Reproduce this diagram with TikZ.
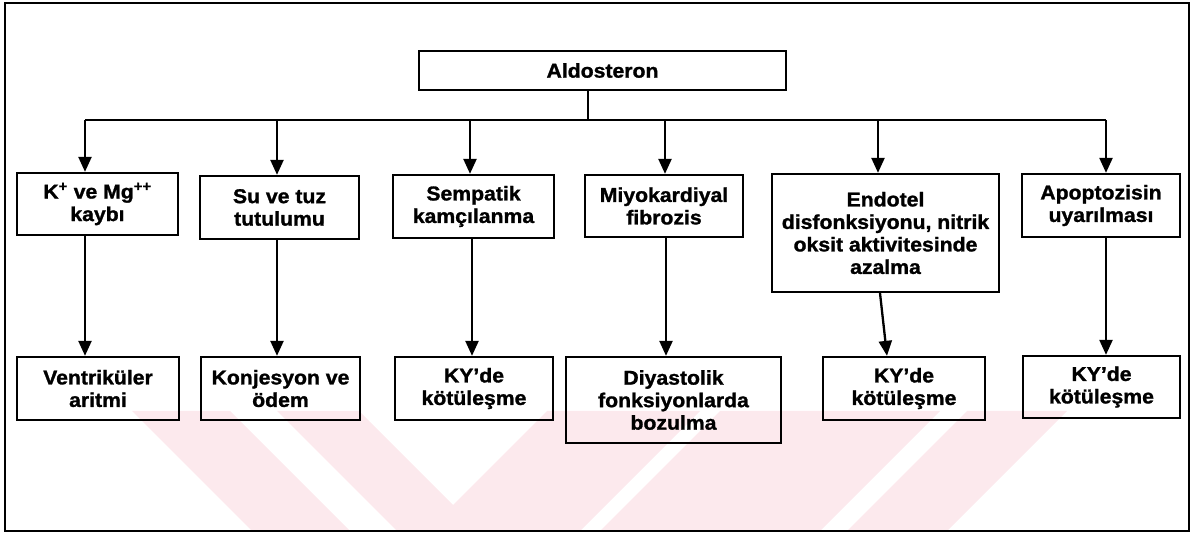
\documentclass[tikz,border=0pt]{standalone}
\usepackage{fontspec}
\setmainfont{Liberation Sans}[BoldFeatures={FakeBold=1.3}, FakeStretch=1.06]
\usetikzlibrary{arrows.meta}
\definecolor{wm}{RGB}{252,233,237}
\begin{document}
\begin{tikzpicture}[x=1pt,y=-1pt,
  box/.style={draw, line width=2.3pt, align=center, inner sep=0pt,
    font=\fontsize{20}{22.5}\selectfont\bfseries},
  arr/.style={line width=2.3pt, -{Triangle[length=15pt,width=13pt]}},
  ln/.style={line width=2.3pt}]
\useasboundingbox (0,0) rectangle (1192,534);
% watermark
\fill[wm] (132,411) -- (230,411) -- (350,531) -- (252,531) -- cycle;
\fill[wm] (277,411) -- (359,411) -- (453,505) -- (547,411) -- (700,411) -- (580,531) -- (397,531) -- cycle;
\fill[wm] (720,411) -- (940,411) -- (820,531) -- (600,531) -- cycle;
\fill[wm] (967,411) -- (1067,411) -- (947,531) -- (847,531) -- cycle;
% frame
\draw[line width=2.6pt] (5,3) rectangle (1189,531);
% nodes
\node[box, minimum width=367pt, minimum height=39pt] (Ald) at (602.5,70.5) {Aldosteron};
\node[box, minimum width=161pt, minimum height=62pt] (K) at (97.5,204) {K\textsuperscript{+} ve Mg\textsuperscript{++}\\kaybı};
\node[box, minimum width=159pt, minimum height=63pt] (Su) at (279.5,207.5) {Su ve tuz\\tutulumu};
\node[box, minimum width=161pt, minimum height=63pt] (Sem) at (473.5,206.5) {Sempatik\\kamçılanma};
\node[box, minimum width=158pt, minimum height=62pt] (Miy) at (664,206) {Miyokardiyal\\fibrozis};
\node[box, minimum width=227pt, minimum height=118pt] (End) at (885.5,233) {Endotel\\disfonksiyonu, nitrik\\oksit aktivitesinde\\azalma};
\node[box, minimum width=158pt, minimum height=63pt] (Apo) at (1101,205.5) {Apoptozisin\\uyarılması};
\node[box, minimum width=162pt, minimum height=63pt] (V) at (98,388.5) {Ventriküler\\aritmi};
\node[box, minimum width=159pt, minimum height=63pt] (Kon) at (280.5,388.5) {Konjesyon ve\\ödem};
\node[box, minimum width=158pt, minimum height=63pt] (KYa) at (474,388.5) {KY’de\\kötüleşme};
\node[box, minimum width=215pt, minimum height=86pt] (Diy) at (673.5,400) {Diyastolik\\fonksiyonlarda\\bozulma};
\node[box, minimum width=162pt, minimum height=63pt] (KYb) at (904,388.5) {KY’de\\kötüleşme};
\node[box, minimum width=157pt, minimum height=62pt] (KYc) at (1101.5,387) {KY’de\\kötüleşme};
% bus
\coordinate (bus) at (588,120);
\coordinate (b1) at (85,120);
\coordinate (b2) at (277,120);
\coordinate (b3) at (470,120);
\coordinate (b4) at (665,120);
\coordinate (b5) at (878,120);
\coordinate (b6) at (1106,120);
\draw[ln] (Ald.south -| bus) -- (bus);
\draw[ln] (b1) -- (b6);
\draw[arr] (b1) -- (b1 |- K.north);
\draw[arr] (b2) -- (b2 |- Su.north);
\draw[arr] (b3) -- (b3 |- Sem.north);
\draw[arr] (b4) -- (b4 |- Miy.north);
\draw[arr] (b5) -- (b5 |- End.north);
\draw[arr] (b6) -- (b6 |- Apo.north);
% second level
\draw[arr] ([xshift=-12.5pt]K.south) -- ([xshift=-13pt]V.north);
\draw[arr] ([xshift=-2.5pt]Su.south) -- ([xshift=-3.5pt]Kon.north);
\draw[arr] ([xshift=-1.5pt]Sem.south) -- ([xshift=-2pt]KYa.north);
\draw[arr] ([xshift=2pt]Miy.south) -- ([xshift=-7.5pt]Diy.north);
\draw[arr] ([xshift=-5.5pt]End.south) -- ([xshift=-17pt]KYb.north);
\draw[arr] ([xshift=5pt]Apo.south) -- ([xshift=4.5pt]KYc.north);
\end{tikzpicture}
\end{document}
